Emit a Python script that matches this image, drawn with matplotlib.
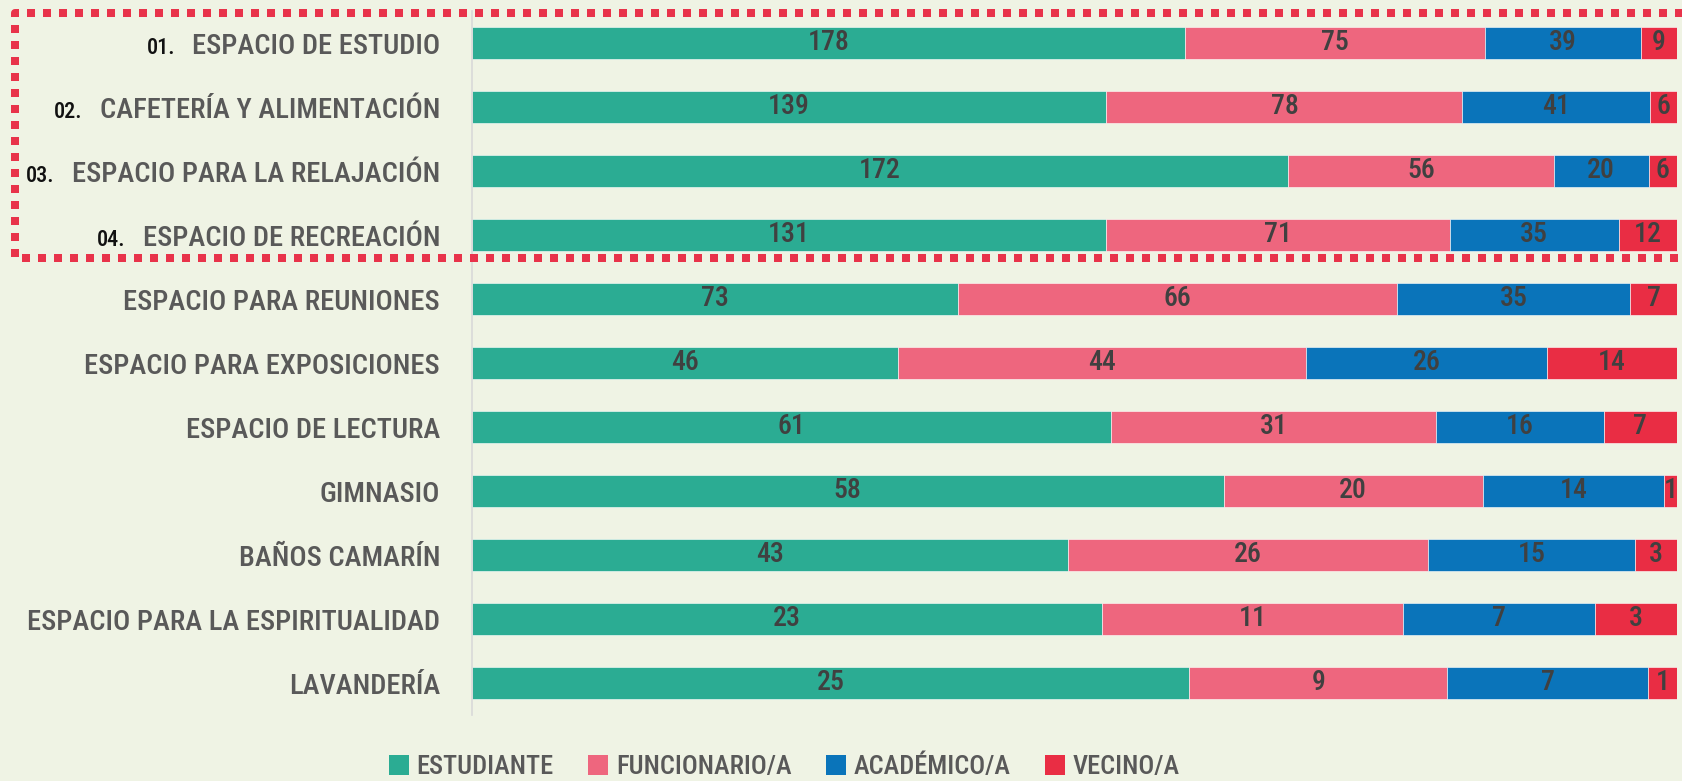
import matplotlib
matplotlib.use("Agg")
import matplotlib.pyplot as plt
from matplotlib import font_manager as fm
from matplotlib.patches import Patch
from matplotlib.lines import Line2D
import numpy as np

# ---- data ----
categories = [
    "ESPACIO DE ESTUDIO",
    "CAFETERÍA Y ALIMENTACIÓN",
    "ESPACIO PARA LA RELAJACIÓN",
    "ESPACIO DE RECREACIÓN",
    "ESPACIO PARA REUNIONES",
    "ESPACIO PARA EXPOSICIONES",
    "ESPACIO DE LECTURA",
    "GIMNASIO",
    "BAÑOS CAMARÍN",
    "ESPACIO PARA LA ESPIRITUALIDAD",
    "LAVANDERÍA",
]
prefixes = ["01.", "02.", "03.", "04."]
series_names = ["ESTUDIANTE", "FUNCIONARIO/A", "ACADÉMICO/A", "VECINO/A"]
estudiante = [178, 139, 172, 131, 73, 46, 61, 58, 43, 23, 25]
funcionario = [75, 78, 56, 71, 66, 44, 31, 20, 26, 11, 9]
academico = [39, 41, 20, 35, 35, 26, 16, 14, 15, 7, 7]
vecino = [9, 6, 6, 12, 7, 14, 7, 1, 3, 3, 1]

colors = ["#2BAC93", "#EE667E", "#0A74BA", "#E92D44"]
bg = "#EFF3E4"

# ---- font choice ----
names = {f.name for f in fm.fontManager.ttflist}
family = "DejaVu Sans"
for cand in ["Roboto Condensed", "Liberation Sans Narrow", "Open Sans Condensed",
             "DejaVu Sans Condensed", "Noto Sans Condensed", "Arial Narrow"]:
    if cand in names:
        family = cand
        break
plt.rcParams["font.family"] = [family, "DejaVu Sans"]
WEIGHT = "medium"

W, H = 1683, 781
fig = plt.figure(figsize=(W / 100, H / 100), dpi=100, facecolor=bg)
ax = fig.add_axes([472 / W, 1 - 715 / H, (1677 - 472) / W, (715 - 11) / H])
ax.set_facecolor(bg)

data = np.array([estudiante, funcionario, academico, vecino], dtype=float)
totals = data.sum(axis=0)
frac = data / totals
y = np.arange(len(categories))
left = np.zeros(len(categories))
for k in range(4):
    ax.barh(y, frac[k], left=left, height=0.5, color=colors[k],
            edgecolor="#ffffff", linewidth=0.4, zorder=3)
    for i in range(len(categories)):
        ax.text(left[i] + frac[k][i] / 2, y[i], f"{int(data[k][i])}",
                ha="center", va="center", fontsize=20, color="#404040",
                fontweight=WEIGHT, zorder=4)
    left += frac[k]

ax.set_xlim(0, 1)
ax.set_ylim(len(categories) - 0.5, -0.5)
ax.set_xticks([])
ax.set_yticks(y)
ax.set_yticklabels(categories, fontsize=20.5, color="#595959", fontweight=WEIGHT)
ax.tick_params(axis="y", length=0, pad=23)
for s in ["top", "right", "bottom"]:
    ax.spines[s].set_visible(False)
ax.spines["left"].set_color("#D9D9D9")
ax.spines["left"].set_linewidth(1.2)
ax.spines["left"].set_zorder(5)

# prefix numbers
fig.canvas.draw()
renderer = fig.canvas.get_renderer()
labels = ax.get_yticklabels()
for i, p in enumerate(prefixes):
    bb = labels[i].get_window_extent(renderer)
    disp_y = ax.transData.transform((0, y[i]))[1] - 3
    fig.text((bb.x0 - 17) / W, disp_y / H, p, ha="right", va="center_baseline",
             fontsize=16, color="#111111", fontweight=WEIGHT)

# dashed box
box = Line2D([1700 / W, 14.7 / W, 14.7 / W, 1700 / W],
             [1 - 13.3 / H, 1 - 13.3 / H, 1 - 258 / H, 1 - 258 / H],
             transform=fig.transFigure, color="#E8334A", linewidth=5.76,
             linestyle=(0, (1, 1)), dash_capstyle="butt", solid_capstyle="butt", zorder=10)
fig.add_artist(box)

# legend
handles = [Patch(facecolor=c, edgecolor="none", label=n) for c, n in zip(colors, series_names)]
leg = fig.legend(handles=handles, loc="center", bbox_to_anchor=(0.466, 1 - 767 / H),
                 ncol=4, frameon=False, handlelength=0.75, handleheight=0.75,
                 handletextpad=0.3, columnspacing=1.3,
                 prop={"weight": WEIGHT, "size": 19})
for t in leg.get_texts():
    t.set_color("#595959")

fig.savefig("out.png", dpi=100, facecolor=bg)
